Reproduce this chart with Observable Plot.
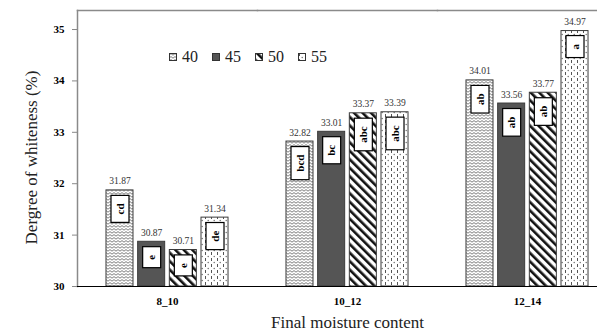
<!DOCTYPE html>
<html>
<head>
<meta charset="utf-8">
<script src="https://cdn.jsdelivr.net/npm/d3@7"></script>
<script src="https://cdn.jsdelivr.net/npm/@observablehq/plot@0.6"></script>
<style>
  html, body { margin: 0; padding: 0; background: white; overflow: hidden; }
  #wrap { position: relative; width: 597px; height: 333px; overflow: hidden; }
  #wrap svg.plot { max-width: none !important; }
  #legend { position: absolute; left: 169px; top: 48px; display: flex; font-family: 'Liberation Serif', 'Times New Roman', serif; font-size: 16px; color: #222; }
  #legend .item { display: flex; align-items: center; width: 43px; }
  #legend svg { margin-right: 5px; }
</style>
</head>
<body>
<div id="wrap"></div>
<script>
const groups = ["8_10", "10_12", "12_14"];
const series = ["40", "45", "50", "55"];
const values40 = [31.87, 32.82, 34.01];
const values45 = [30.87, 33.01, 33.56];
const values50 = [30.71, 33.37, 33.77];
const values55 = [31.34, 33.39, 34.97];
const letters40 = ["cd", "bcd", "ab"];
const letters45 = ["e", "bc", "ab"];
const letters50 = ["e", "abc", "ab"];
const letters55 = ["de", "abc", "a"];
const yTicks = [30, 31, 32, 33, 34, 35];
const yMin = 30, yMax = 35.37;
const yLabel = "Dergree of whiteness (%)";
const xLabel = "Final moisture content";

const valuesBy = {"40": values40, "45": values45, "50": values50, "55": values55};
const lettersBy = {"40": letters40, "45": letters45, "50": letters50, "55": letters55};
const data = groups.flatMap((g, i) => series.map(s => ({group: g, series: s, value: valuesBy[s][i], letter: lettersBy[s][i]})));

const plot = Plot.plot({
  width: 617, height: 333,
  marginLeft: 77, marginRight: 0, marginTop: 10, marginBottom: 47,
  className: "plot",
  style: {fontFamily: "'Liberation Serif', 'Times New Roman', serif", background: "white", color: "black", maxWidth: "none"},
  fx: {domain: groups, padding: 0, label: null, round: false},
  x: {domain: series, paddingInner: 0.147, paddingOuter: 0.915, axis: null, round: false},
  y: {domain: [yMin, yMax], axis: null},
  marks: [
    Plot.frame({anchor: "top", stroke: "#8a8a8a", strokeWidth: 1.5}),
    Plot.frame({anchor: "left", stroke: "#8a8a8a", strokeWidth: 1.5, facetAnchor: "left"}),
    ...series.map(s => Plot.barY(data.filter(d => d.series === s), {
      fx: "group", x: "series", y1: yMin, y2: "value",
      fill: `url(#p${s})`, stroke: "#3a3a3a", strokeWidth: 1
    })),
    Plot.ruleY([yMin], {stroke: "black", strokeWidth: 1.2}),
    Plot.text(data, {fx: "group", x: "series", y: "value", text: d => d.value.toFixed(2), dy: -9, fontSize: 9.5, fill: "#333"}),
    Plot.text(data, {fx: "group", x: "series", y: "value", text: "letter", rotate: -90, textAnchor: "end", dy: 13, fontSize: 11, fontWeight: "bold", fill: "black", className: "letters"}),
    Plot.axisY({ticks: yTicks, tickSize: 5, tickPadding: 8, stroke: "#888", fontSize: 11, fontWeight: "bold", label: null, tickFormat: d => d}),
    Plot.text([yLabel], {frameAnchor: "left", facetAnchor: "left", textAnchor: "middle", dx: -46, dy: 9, rotate: -90, fontSize: 17, fill: "#222"}),
    Plot.axisFx({anchor: "bottom", tickSize: 0, tickPadding: 11, fontSize: 11, fontWeight: "bold", label: null}),
    Plot.axisFx({anchor: "bottom", ticks: [], tickSize: 0, label: xLabel, labelAnchor: "center", labelOffset: 41, fontSize: 17, fill: "#222"})
  ]
});

const wrap = document.getElementById("wrap");
wrap.appendChild(plot);

// patterns
const svg = d3.select(plot);
const defs = svg.insert("defs", ":first-child");
const p40 = defs.append("pattern").attr("id", "p40").attr("patternUnits", "userSpaceOnUse").attr("width", 4).attr("height", 3);
p40.append("rect").attr("width", 4).attr("height", 3).attr("fill", "white");
p40.append("path").attr("d", "M0,2.2 L2,0.6 L4,2.2").attr("fill", "none").attr("stroke", "#6a6a6a").attr("stroke-width", 0.9);
const p45 = defs.append("pattern").attr("id", "p45").attr("patternUnits", "userSpaceOnUse").attr("width", 4).attr("height", 4);
p45.append("rect").attr("width", 4).attr("height", 4).attr("fill", "#555555");
const p50 = defs.append("pattern").attr("id", "p50").attr("patternUnits", "userSpaceOnUse").attr("width", 6).attr("height", 6).attr("patternTransform", "rotate(-45)");
p50.append("rect").attr("width", 6).attr("height", 6).attr("fill", "white");
p50.append("rect").attr("width", 2.6).attr("height", 6).attr("fill", "#111");
const p55 = defs.append("pattern").attr("id", "p55").attr("patternUnits", "userSpaceOnUse").attr("width", 6).attr("height", 6);
p55.append("rect").attr("width", 6).attr("height", 6).attr("fill", "white");
p55.append("rect").attr("x", 1).attr("y", 0).attr("width", 1).attr("height", 3).attr("fill", "#555");
p55.append("circle").attr("cx", 4.2).attr("cy", 4.5).attr("r", 0.7).attr("fill", "#666");

// white boxes behind letters
svg.selectAll("g.letters text").each(function() {
  const bb = this.getBBox();
  const padX = 8;
  d3.select(this.parentNode).insert("rect", () => this)
    .attr("transform", this.getAttribute("transform"))
    .attr("x", bb.x - padX).attr("width", bb.width + 2 * padX)
    .attr("y", -9).attr("height", 18)
    .attr("fill", "white").attr("stroke", "black").attr("stroke-width", 1.2);
});

// legend
const legend = d3.select(wrap).append("div").attr("id", "legend");
series.forEach(s => {
  const item = legend.append("div").attr("class", "item");
  const sw = item.append("svg").attr("width", 8).attr("height", 8);
  sw.append("rect").attr("x", 0.5).attr("y", 0.5).attr("width", 7).attr("height", 7).attr("fill", `url(#p${s})`).attr("stroke", "#333");
  item.append("span").text(s);
});
</script>
</body>
</html>
